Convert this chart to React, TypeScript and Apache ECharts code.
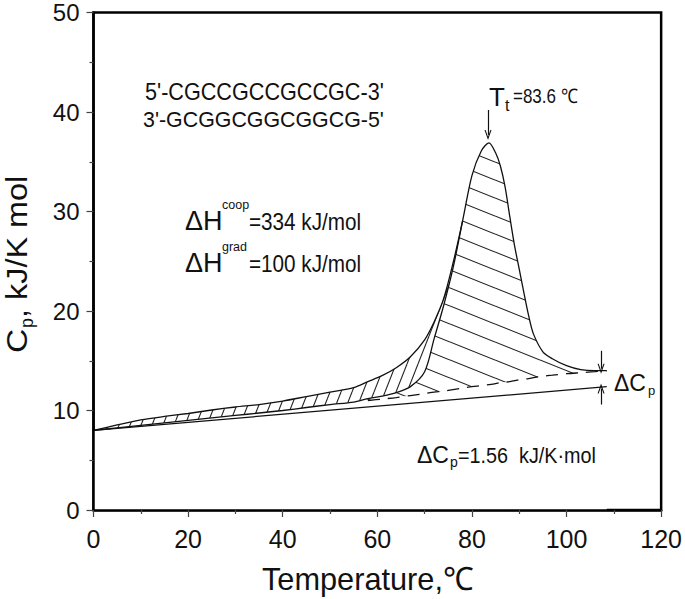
import React, { useEffect, useRef } from 'react';
import * as echarts from 'echarts';

// ---- data ----
const TEMPS = [0, 5, 10, 15, 20, 25, 30, 35, 40, 45, 50, 55, 58, 61, 64, 67, 70, 72, 74, 76, 78, 80, 82, 83.6, 85, 86, 87, 88, 89, 90, 91, 92, 93, 95, 97, 100, 103, 106, 108.5];
// total excess heat capacity (outer curve)
const CP_TOTAL = [8.0, 8.55, 9.05, 9.4, 9.7, 10.05, 10.35, 10.6, 10.95, 11.4, 11.85, 12.3, 12.9, 13.5, 14.3, 15.4, 17.1, 18.9, 21.2, 24.8, 29.0, 33.6, 36.1, 36.9, 35.9, 34.6, 32.5, 29.5, 26.6, 24.2, 21.8, 19.5, 17.7, 15.9, 15.2, 14.5, 14.1, 14.0, 14.0];
// cooperative component (inner curve)
const CP_COOP = [8.0, 8.25, 8.5, 8.75, 9.0, 9.25, 9.5, 9.75, 10.0, 10.3, 10.6, 10.85, 11.2, 11.45, 11.8, 12.4, 13.9, 17.2, 20.5, 24.3, 29.0, 33.6, 36.1, 36.9, 35.9, 34.6, 32.5, 29.5, 26.6, 24.2, 21.8, 19.5, 17.7, 15.9, 15.2, 14.5, 14.1, 14.0, 14.0];
// progress (sigmoidal) baseline
const CP_PROGRESS = [8.0, 8.25, 8.5, 8.75, 9.0, 9.25, 9.5, 9.75, 10.0, 10.3, 10.6, 10.85, 11.0, 11.15, 11.3, 11.5, 11.7, 11.85, 11.95, 12.1, 12.25, 12.4, 12.5, 12.6, 12.7, 12.8, 12.85, 12.9, 13.0, 13.1, 13.15, 13.2, 13.3, 13.45, 13.55, 13.7, 13.8, 13.9, 14.0];
// straight (native state) baseline
const BASE_T = [0, 108.5];
const BASE_CP = [8.0, 12.4];

const X_TICKS = { min: 0, max: 120, interval: 20 };
const Y_TICKS = { min: 0, max: 50, interval: 10 };

const FONT = "'Liberation Sans', Arial, sans-serif";

function makeHatch(w: number, h: number, segs: number[][]) {
  const c = document.createElement('canvas');
  c.width = w;
  c.height = h;
  const ctx = c.getContext('2d')!;
  ctx.fillStyle = '#fff';
  ctx.fillRect(0, 0, w, h);
  ctx.strokeStyle = '#222';
  ctx.lineWidth = 1.1;
  segs.forEach(([a, b, cc, d]) => {
    ctx.beginPath();
    ctx.moveTo(a, b);
    ctx.lineTo(cc, d);
    ctx.stroke();
  });
  return { image: c, repeat: 'repeat', imageWidth: w, imageHeight: h } as any;
}

function txt(x: number, baseline: number, text: string, size: number, scaleX = 1) {
  return {
    type: 'text',
    x,
    y: baseline - 0.347 * size,
    scaleX,
    z: 100,
    silent: true,
    style: {
      text,
      x: 0,
      y: 0,
      fontSize: size,
      fontFamily: FONT,
      fill: '#111',
      align: 'left',
      verticalAlign: 'middle',
    },
  };
}

const pts = (ys: number[]) => TEMPS.map((t, i) => [t, ys[i]]);

export default function App() {
  const ref = useRef<HTMLDivElement>(null);
  useEffect(() => {
    const chart = echarts.init(ref.current!, null, { renderer: 'svg', width: 685, height: 599 });
    const vert = makeHatch(11, 28, [-1, 0, 1].map((k) => [k * 11, 28, k * 11 + 11, 0]));
    const diag = makeHatch(45, 18, [-1, 0, 1].map((k) => [0, k * 18, 45, k * 18 + 18]));

    const arrowSym = 'path://M0,10 L5,0 L10,10 L8.4,10 L5,3.2 L1.6,10 Z';
    const hidden = { width: 0, opacity: 0 };
    // hatched fills stop one sample short so their edges sit inside the white cover
    const inner = (ys: number[]) => pts(ys).slice(0, -1);

    const option: any = {
      animation: false,
      backgroundColor: '#fff',
      grid: { left: 93.5, right: 17.5, top: 12.5, bottom: 89, show: true, borderColor: '#000', borderWidth: 2.5 },
      xAxis: {
        type: 'value',
        ...X_TICKS,
        z: 10,
        axisLine: { lineStyle: { color: '#000', width: 2.5 } },
        axisTick: { length: 7, lineStyle: { color: '#444', width: 1.2 } },
        minorTick: { show: true, splitNumber: 2, length: 4, lineStyle: { color: '#444', width: 1.2 } },
        splitLine: { show: false },
        axisLabel: { margin: 16, fontSize: 25, color: '#111', fontFamily: FONT },
      },
      yAxis: {
        type: 'value',
        ...Y_TICKS,
        z: 10,
        axisLine: { lineStyle: { color: '#000', width: 2.5 } },
        axisTick: { length: 7, lineStyle: { color: '#444', width: 1.2 } },
        minorTick: { show: true, splitNumber: 2, length: 4, lineStyle: { color: '#444', width: 1.2 } },
        splitLine: { show: false },
        axisLabel: { margin: 14, fontSize: 24, color: '#111', fontFamily: FONT },
      },
      series: [
        {
          type: 'line', data: inner(CP_TOTAL), symbol: 'none', smooth: 0.3, z: 2, silent: true,
          lineStyle: hidden, areaStyle: { color: vert, opacity: 1 },
        },
        {
          type: 'line', data: inner(CP_COOP), symbol: 'none', smooth: 0.3, z: 3, silent: true,
          lineStyle: hidden, areaStyle: { color: diag, opacity: 1 },
        },
        {
          type: 'line', data: pts(CP_PROGRESS), symbol: 'none', smooth: 0.3, z: 4, silent: true,
          lineStyle: hidden, areaStyle: { color: '#fff', opacity: 1 },
        },
        {
          type: 'line', data: BASE_T.map((t, i) => [t, BASE_CP[i]]), symbol: 'none', z: 5, silent: true,
          lineStyle: { color: '#111', width: 1.3 },
          markLine: {
            silent: true,
            symbol: ['none', arrowSym],
            symbolSize: [7, 10],
            label: { show: false },
            lineStyle: { color: '#111', width: 1.2, type: 'solid' },
            data: [
              [{ coord: [83.4, 40.2] }, { coord: [83.4, 37.7] }],
              [{ coord: [107.3, 16.0] }, { coord: [107.3, 14.2] }],
              [{ coord: [107.3, 10.6] }, { coord: [107.3, 12.2] }],
            ],
          },
        },
        {
          type: 'line', data: pts(CP_TOTAL), symbol: 'none', smooth: 0.3, z: 5, silent: true,
          lineStyle: { color: '#111', width: 1.3 },
        },
        {
          type: 'line', data: pts(CP_COOP).filter((p) => p[0] <= 78), symbol: 'none', smooth: 0.3, z: 5, silent: true,
          lineStyle: { color: '#111', width: 1.3 },
        },
        {
          type: 'line', data: pts(CP_PROGRESS).filter((p) => p[0] >= 58), symbol: 'none', smooth: 0.3, z: 5, silent: true,
          lineStyle: { color: '#111', width: 1.3, type: [12, 8] },
        },
      ],
      graphic: [
        txt(145, 100, "5'-CGCCGCCGCCGC-3'", 23, 0.94),
        txt(143, 127, "3'-GCGGCGGCGGCG-5'", 23, 0.93),
        txt(185, 230, 'ΔH', 27),
        txt(222, 209, 'coop', 12.5),
        txt(249, 230, '=334 kJ/mol', 23, 0.9),
        txt(185, 272, 'ΔH', 27),
        txt(222, 251, 'grad', 12.5),
        txt(249, 272, '=100 kJ/mol', 23, 0.9),
        txt(489, 106, 'T', 26),
        txt(505, 111, 't', 16),
        txt(513, 103, '=83.6 ℃', 20, 0.85),
        txt(614, 391, 'ΔC', 23),
        txt(648, 395, 'p', 13),
        txt(417, 463, 'ΔC', 23),
        txt(450, 467, 'p', 14),
        txt(458, 463, '=1.56  kJ/K·mol', 22, 0.9),
        txt(262, 590, 'Temperature,℃', 32, 0.96),
        {
          type: 'group',
          x: 27,
          y: 353,
          rotation: Math.PI / 2,
          z: 100,
          children: [
            txt(0, 0, 'C', 30, 1.12),
            txt(25, 6, 'p', 18),
            txt(35, 0, ', kJ/K mol', 30, 1.08),
          ],
        },
      ],
    };
    chart.setOption(option);
    return () => chart.dispose();
  }, []);
  return <div ref={ref} style={{ position: 'absolute', left: 0, top: 0, width: 685, height: 599, background: '#fff' }} />;
}
